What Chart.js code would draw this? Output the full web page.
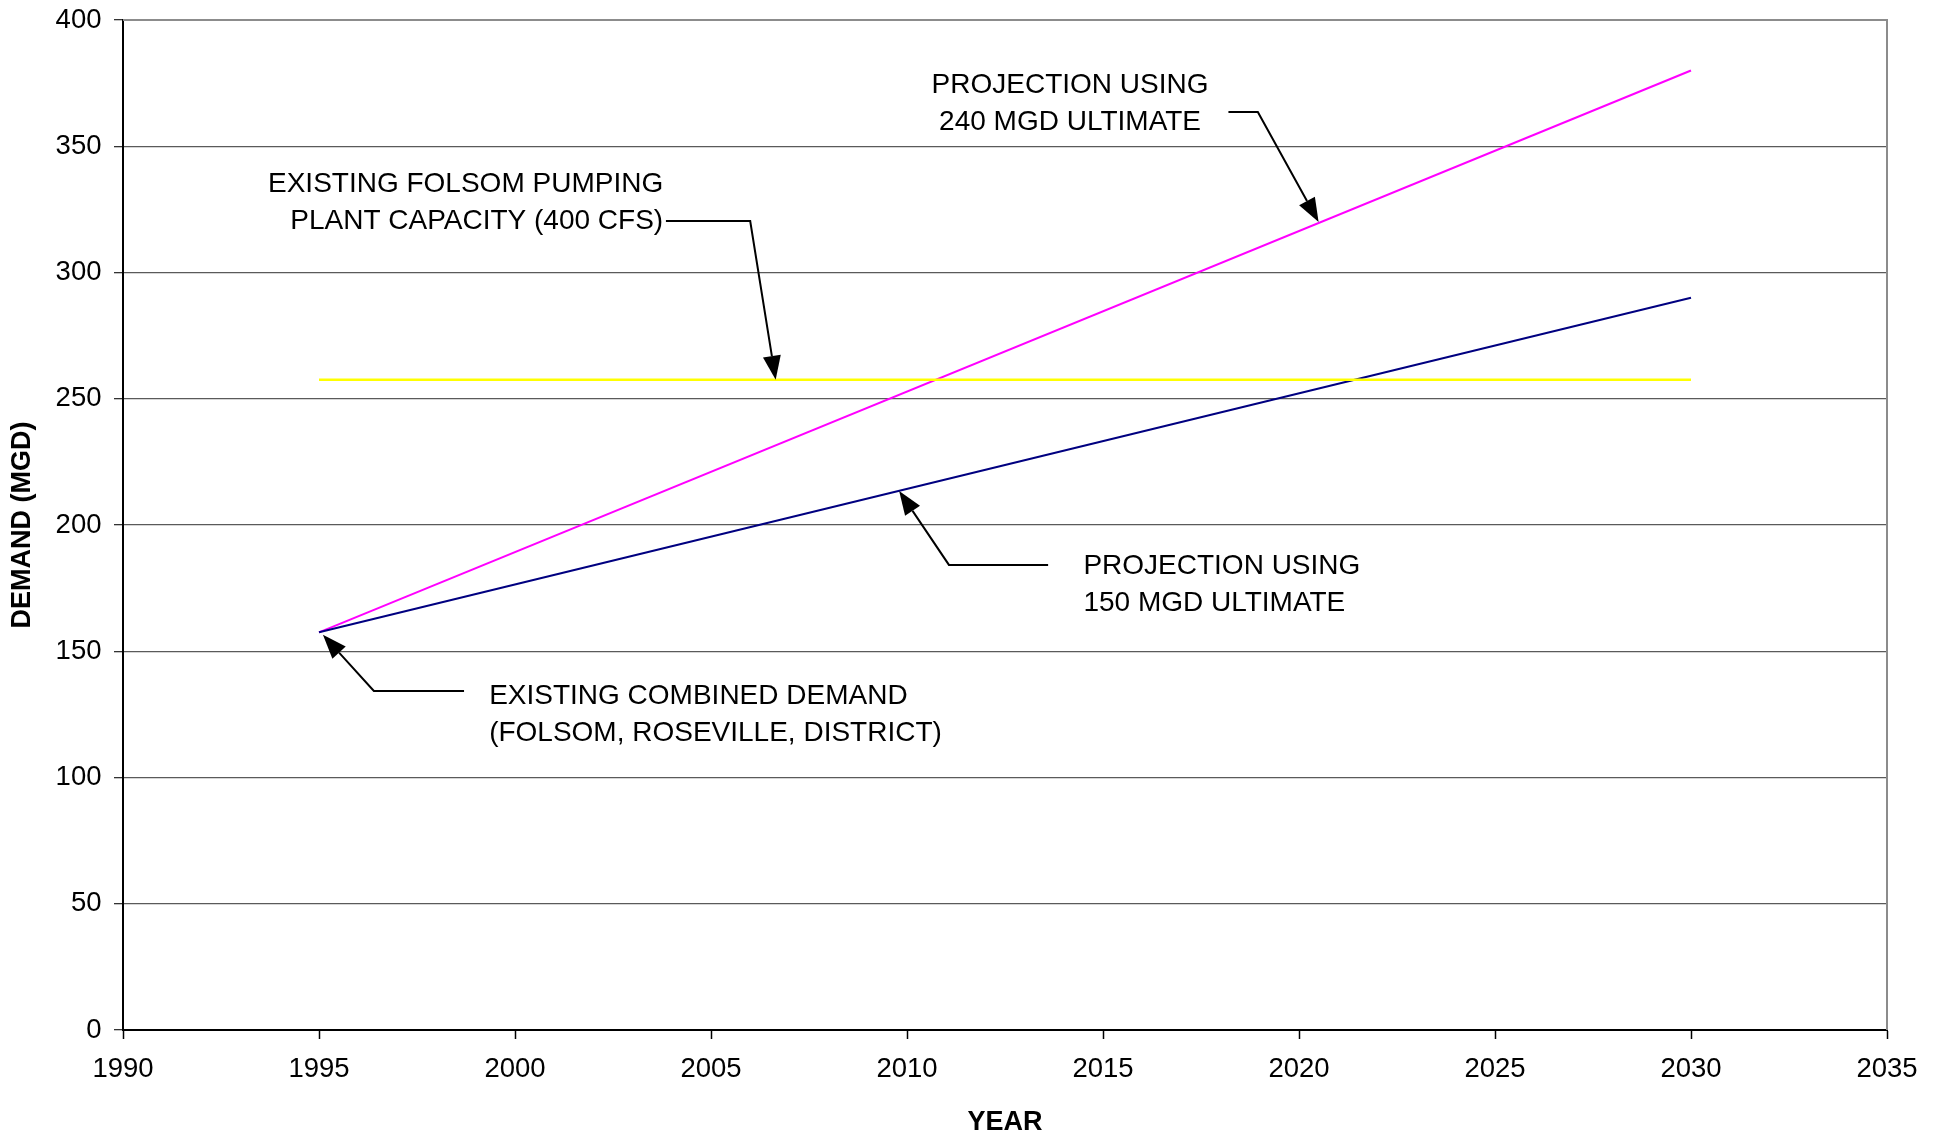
<!DOCTYPE html>
<html>
<head>
<meta charset="utf-8">
<script src="https://cdn.jsdelivr.net/npm/chart.js"></script>
<style>
  body { margin: 0; background: #fff; }
  #wrap { width: 1942px; height: 1137px; }
</style>
</head>
<body>
<div id="wrap"><canvas id="chart"></canvas></div>
<script>
// Daten aus dem Diagramm
var years = [1995, 2030];
var proj240 = [157.5, 380];
var proj150 = [157.5, 290];
var pumpCapacity = [257.5, 257.5];

var xTicks = [1990, 1995, 2000, 2005, 2010, 2015, 2020, 2025, 2030, 2035];
var yTicks = [0, 50, 100, 150, 200, 250, 300, 350, 400];

function toPoints(xs, ys) {
    return xs.map(function(x, i) {
        return { x: x, y: ys[i] };
    });
}

// Beschriftungen mit Pfeil (Position in Jahr / MGD)
var callouts = [
    {
        lines: ['PROJECTION USING', '240 MGD ULTIMATE'],
        align: 'center', x: 2014.16, y: [374.0, 359.4],
        leader: [[2018.2, 363.6], [2018.95, 363.6], [2020.5, 320]]
    },
    {
        lines: ['EXISTING FOLSOM PUMPING', 'PLANT CAPACITY (400 CFS)'],
        align: 'right', x: 2003.78, y: [334.8, 320.2],
        leader: [[2003.85, 320.4], [2006.0, 320.4], [2006.65, 257.5]]
    },
    {
        lines: ['PROJECTION USING', '150 MGD ULTIMATE'],
        align: 'left', x: 2014.5, y: [183.8, 169.0],
        leader: [[2013.6, 184.2], [2011.07, 184.2], [2009.8, 213.5]]
    },
    {
        lines: ['EXISTING COMBINED DEMAND', '(FOLSOM, ROSEVILLE, DISTRICT)'],
        align: 'left', x: 1999.34, y: [132.2, 117.5],
        leader: [[1998.7, 134.3], [1996.4, 134.3], [1995.1, 156.5]]
    }
];

var FONT = '"Liberation Sans", Arial, sans-serif';

// Rahmen oben und rechts (grau)
var framePlugin = {
    id: 'frame',
    beforeDatasetsDraw: function(chart) {
        var a = chart.chartArea, ctx = chart.ctx;
        ctx.save();
        ctx.strokeStyle = '#8c8c8c';
        ctx.lineWidth = 2;
        ctx.beginPath();
        ctx.moveTo(a.left, a.top);
        ctx.lineTo(a.right, a.top);
        ctx.lineTo(a.right, a.bottom);
        ctx.stroke();
        ctx.restore();
    }
};

var calloutPlugin = {
    id: 'callouts',
    afterDatasetsDraw: function(chart) {
        var ctx = chart.ctx, xs = chart.scales.x, ys = chart.scales.y;
        ctx.save();
        ctx.font = '28px ' + FONT;
        ctx.fillStyle = '#000';
        ctx.strokeStyle = '#000';
        ctx.lineWidth = 2;
        ctx.textBaseline = 'middle';
        callouts.forEach(function(c) {
            ctx.textAlign = c.align;
            c.lines.forEach(function(t, i) {
                ctx.fillText(t, xs.getPixelForValue(c.x), ys.getPixelForValue(c.y[i]));
            });
            var pts = c.leader.map(function(p) {
                return [xs.getPixelForValue(p[0]), ys.getPixelForValue(p[1])];
            });
            var tip = pts[pts.length - 1], prev = pts[pts.length - 2];
            var dx = tip[0] - prev[0], dy = tip[1] - prev[1];
            var len = Math.sqrt(dx * dx + dy * dy);
            var ux = dx / len, uy = dy / len;
            var headLen = 24, headW = 9;
            var bx = tip[0] - ux * headLen, by = tip[1] - uy * headLen;
            ctx.beginPath();
            ctx.moveTo(pts[0][0], pts[0][1]);
            for (var i = 1; i < pts.length - 1; i++) ctx.lineTo(pts[i][0], pts[i][1]);
            ctx.lineTo(bx, by);
            ctx.stroke();
            ctx.beginPath();
            ctx.moveTo(tip[0], tip[1]);
            ctx.lineTo(bx - uy * headW, by + ux * headW);
            ctx.lineTo(bx + uy * headW, by - ux * headW);
            ctx.closePath();
            ctx.fill();
        });
        ctx.restore();
    }
};

Chart.defaults.font.family = FONT;
Chart.defaults.color = '#000';

var config = {
    type: 'line',
    data: {
        datasets: [
            {
                label: 'Folsom Pumping Plant Capacity',
                data: toPoints(years, pumpCapacity),
                borderColor: '#ffff00',
                borderWidth: 2.5
            },
            {
                label: 'Projection 150 MGD',
                data: toPoints(years, proj150),
                borderColor: '#000080',
                borderWidth: 2
            },
            {
                label: 'Projection 240 MGD',
                data: toPoints(years, proj240),
                borderColor: '#ff00ff',
                borderWidth: 2
            }
        ]
    },
    options: {
        responsive: true,
        maintainAspectRatio: false,
        animation: false,
        layout: { padding: { top: 20, right: 55, left: 0, bottom: 0 } },
        elements: { point: { radius: 0 }, line: { tension: 0 } },
        plugins: { legend: { display: false }, tooltip: { enabled: false } },
        scales: {
            x: {
                type: 'linear',
                min: 1990,
                max: 2035,
                afterBuildTicks: function(s) {
                    s.ticks = xTicks.map(function(v) { return { value: v }; });
                },
                afterFit: function(s) {
                    s.height = 107;
                    s.paddingLeft = 0;
                    s.paddingRight = 0;
                },
                ticks: {
                    font: { size: 27.5 },
                    color: '#000',
                    padding: 14,
                    maxRotation: 0,
                    autoSkip: false,
                    callback: function(v) { return String(v); }
                },
                grid: { drawOnChartArea: false, drawTicks: true, tickLength: 9, tickColor: '#000', tickWidth: 1.5 },
                border: { color: '#000', width: 2 },
                title: {
                    display: true,
                    text: 'YEAR',
                    color: '#000',
                    font: { size: 27, weight: 'bold' },
                    padding: { top: 0, bottom: -1.5 }
                }
            },
            y: {
                type: 'linear',
                min: 0,
                max: 400,
                afterBuildTicks: function(s) {
                    s.ticks = yTicks.map(function(v) { return { value: v }; });
                },
                afterFit: function(s) {
                    s.width = 123;
                    s.paddingTop = 0;
                    s.paddingBottom = 0;
                },
                ticks: {
                    font: { size: 27.5 },
                    color: '#000',
                    padding: 12.5,
                    callback: function(v) { return String(v); }
                },
                grid: {
                    color: function(c) {
                        return (c.tick && (c.tick.value === 0 || c.tick.value === 400)) ? 'rgba(0,0,0,0)' : '#5a5a5a';
                    },
                    lineWidth: 1.3,
                    drawTicks: true,
                    tickLength: 9,
                    tickColor: '#333'
                },
                border: { color: '#000', width: 2 },
                title: {
                    display: true,
                    text: 'DEMAND (MGD)',
                    color: '#000',
                    font: { size: 27, weight: 'bold' },
                    padding: { top: 6, bottom: 0 }
                }
            }
        }
    },
    plugins: [framePlugin, calloutPlugin]
};

var chart = new Chart(document.getElementById('chart'), config);
</script>
</body>
</html>
